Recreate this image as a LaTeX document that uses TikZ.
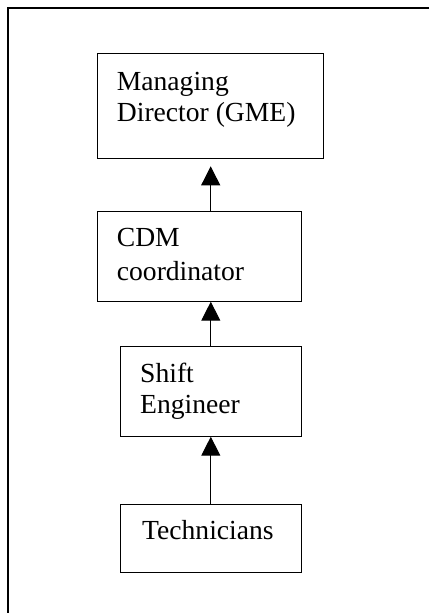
\documentclass[tikz,border=0pt]{standalone}
\usepackage{fontspec}
\setmainfont{Liberation Serif}
\usetikzlibrary{arrows.meta}
\tikzset{
  orgbox/.style={draw=black, line width=1pt, anchor=north west, inner sep=0pt, outer sep=0pt},
  orgtext/.style={anchor=base west, inner sep=0pt, font=\fontsize{27.6}{31.7}\selectfont},
  reports/.style={draw=black, line width=1pt, -{Triangle[width=19pt,length=19pt]}},
  frame/.style={draw=black, line width=1.6pt}
}
\begin{document}
\begin{tikzpicture}[x=1pt,y=-1pt]
  \useasboundingbox (0,0) rectangle (429,613);
  % page frame (top and left edges)
  \coordinate (fr) at (8,8);
  \coordinate (frr) at (429,8);
  \coordinate (frb) at (8,613);
  \draw[frame] (frr) -- (fr) -- (frb);

  % boxes
  \node[orgbox, minimum width=226pt, minimum height=105pt] (md) at (97.7,53.3) {};
  \node[orgbox, minimum width=203.6pt, minimum height=90pt] (cdm) at (97.7,211.7) {};
  \node[orgbox, minimum width=181pt, minimum height=90pt] (sh) at (120.3,346.7) {};
  \node[orgbox, minimum width=181pt, minimum height=68pt] (tech) at (120.3,504.3) {};

  % labels
  \node[orgtext] (mdA) at (116.7,90) {Managing};
  \node[orgtext] (mdB) at (116.7,121.7) {Director (GME)};
  \node[orgtext] (cdmA) at (116.7,246.7) {CDM};
  \node[orgtext] (cdmB) at (116.7,280) {coordinator};
  \node[orgtext] (shA) at (140,382.7) {Shift};
  \node[orgtext] (shB) at (140,413.3) {Engineer};
  \node[orgtext] (techA) at (142,539.3) {Technicians};

  % reporting lines
  \draw[reports, shorten >=8pt] (cdm.north -| md.south) -- (md.south);
  \draw[reports] (sh.north) -- (sh.north |- cdm.south);
  \draw[reports] (tech.north) -- (sh.south);
\end{tikzpicture}
\end{document}
